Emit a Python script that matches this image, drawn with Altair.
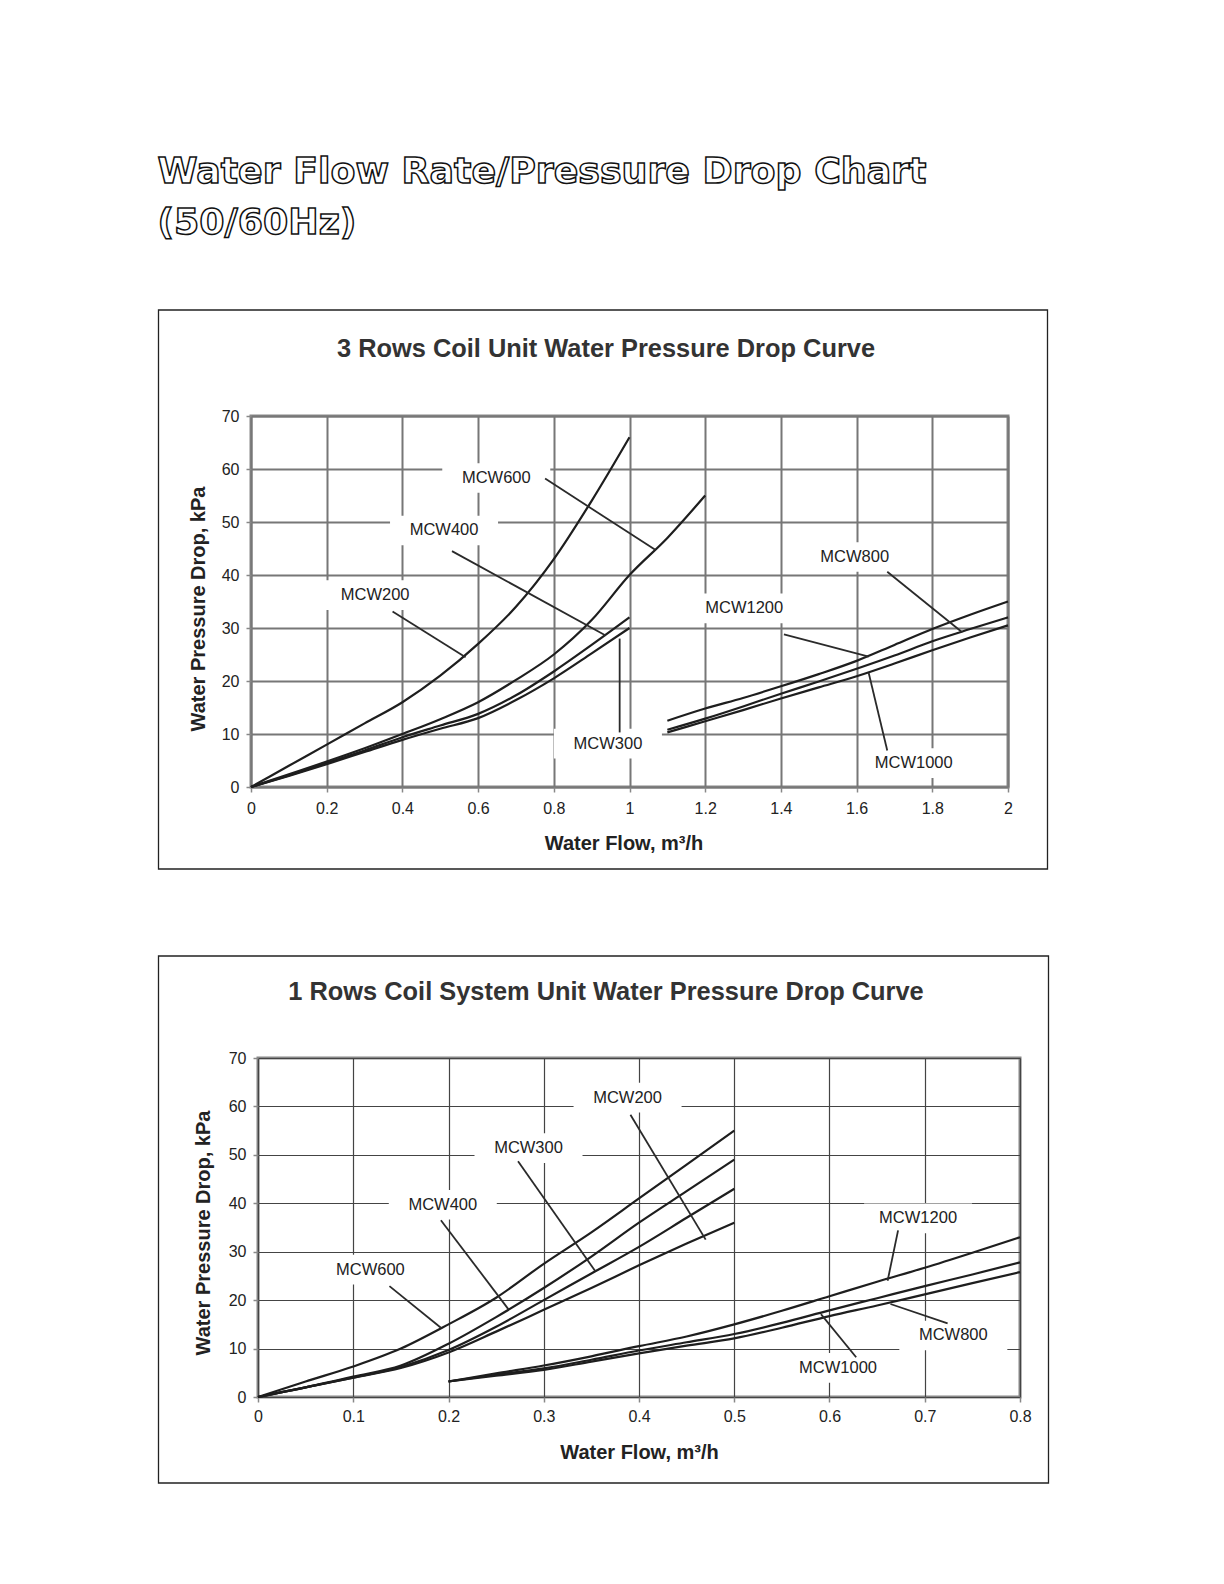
import altair as alt
import pandas as pd

FONT = "Liberation Sans"

# ---------------- Top chart: 3 Rows Coil ----------------
T_X_A = [0, 0.1, 0.2, 0.3, 0.4, 0.5, 0.6, 0.7, 0.8, 0.9, 1.0]
T_MCW200 = [0, 4, 8, 12, 16, 21, 27, 34, 43, 54, 66]
T_MCW400 = [0, 2.2, 4.5, 6.9, 9.4, 11.6, 13.8, 17.3, 21.8, 26.8, 32]
T_MCW300 = [0, 2.1, 4.3, 6.6, 8.9, 11.0, 13.0, 16.4, 20.5, 25.2, 30]
T_X_600 = [0, 0.1, 0.2, 0.3, 0.4, 0.5, 0.6, 0.7, 0.8, 0.9, 1.0, 1.1, 1.2]
T_MCW600 = [0, 2.4, 4.8, 7.3, 10, 12.8, 16, 20.2, 25, 31.5, 40, 47, 55]
T_X_B = [1.1, 1.2, 1.3, 1.4, 1.5, 1.6, 1.7, 1.8, 1.9, 2.0]
T_MCW1200 = [12.5, 14.8, 16.8, 19.0, 21.3, 23.8, 26.8, 29.8, 32.5, 35]
T_MCW800 = [10.8, 12.9, 15.2, 17.6, 19.9, 22.3, 24.8, 27.5, 29.8, 32]
T_MCW1000 = [10.3, 12.4, 14.5, 16.7, 18.8, 20.9, 23.3, 25.8, 28.2, 30.5]

T_XTICKS = [0, 0.2, 0.4, 0.6, 0.8, 1.0, 1.2, 1.4, 1.6, 1.8, 2.0]
YTICKS = [0, 10, 20, 30, 40, 50, 60, 70]

T_LABELS = ["MCW600", "MCW400", "MCW200", "MCW300", "MCW1200", "MCW800", "MCW1000"]
T_LAB_X = [0.648, 0.510, 0.328, 0.943, 1.303, 1.595, 1.751]
T_LAB_Y = [58.3, 48.4, 36.2, 8.2, 33.7, 43.4, 4.5]
T_LEAD_X1 = [0.777, 0.531, 0.374, 0.974, 1.408, 1.681, 1.681]
T_LEAD_Y1 = [58.2, 44.5, 33.1, 10.3, 28.8, 40.6, 6.9]
T_LEAD_X2 = [1.069, 0.937, 0.567, 0.974, 1.632, 1.879, 1.632]
T_LEAD_Y2 = [44.7, 28.6, 24.5, 28.0, 24.6, 29.2, 21.5]

# ---------------- Bottom chart: 1 Rows Coil ----------------
B_X_A = [0, 0.05, 0.1, 0.15, 0.2, 0.25, 0.3, 0.35, 0.4, 0.45, 0.5]
B_MCW600 = [0, 3.2, 6.3, 10, 15, 20.5, 27.5, 34, 41, 48, 55]
B_MCW400 = [0, 2, 4.2, 6.5, 11, 16.5, 22.5, 29, 36, 42.5, 49]
B_MCW300 = [0, 2, 4, 6.2, 9.7, 14.5, 20, 25.5, 31, 37, 43]
B_MCW200 = [0, 2, 4, 6, 9.2, 13.5, 18, 22.5, 27.2, 31.7, 36]
B_X_B = [0.2, 0.25, 0.3, 0.35, 0.4, 0.45, 0.5, 0.55, 0.6, 0.65, 0.7, 0.75, 0.8]
B_MCW1200 = [3.2, 4.9, 6.5, 8.4, 10.5, 12.5, 15, 17.8, 20.8, 23.8, 26.7, 29.8, 33]
B_MCW1000 = [3.2, 4.6, 5.9, 7.7, 9.6, 11.3, 13, 15.3, 17.9, 20.4, 22.9, 25.3, 27.8]
B_MCW800 = [3.2, 4.4, 5.6, 7.3, 9.0, 10.6, 12.1, 14.3, 16.7, 18.9, 21.2, 23.5, 25.8]

B_XTICKS = [0, 0.1, 0.2, 0.3, 0.4, 0.5, 0.6, 0.7, 0.8]

B_LABELS = ["MCW200", "MCW300", "MCW400", "MCW600", "MCW1200", "MCW800", "MCW1000"]
B_LAB_X = [0.388, 0.284, 0.194, 0.118, 0.693, 0.730, 0.609]
B_LAB_Y = [61.8, 51.4, 39.7, 26.3, 36.9, 12.7, 6.0]
B_LEAD_X1 = [0.391, 0.273, 0.192, 0.138, 0.672, 0.724, 0.628]
B_LEAD_Y1 = [58.3, 48.7, 36.5, 22.9, 34.4, 15.2, 8.2]
B_LEAD_X2 = [0.470, 0.354, 0.263, 0.192, 0.661, 0.664, 0.591]
B_LEAD_Y2 = [32.5, 26.0, 18.1, 14.3, 24.0, 19.2, 17.1]

PAGE_TITLE_1 = "Water Flow Rate/Pressure Drop Chart"
PAGE_TITLE_2 = "(50/60Hz)"
TOP_TITLE = "3 Rows Coil Unit Water Pressure Drop Curve"
BOT_TITLE = "1 Rows Coil System Unit Water Pressure Drop Curve"
X_TITLE = "Water Flow, m³/h"
Y_TITLE = "Water Pressure Drop, kPa"

BOX_PATH = "M-2,-0.55L2,-0.55L2,0.55L-2,0.55Z"


def series_df(pairs):
    rows = []
    for name, xs, ys in pairs:
        for x, y in zip(xs, ys):
            rows.append({"series": name, "x": x, "y": y})
    return pd.DataFrame(rows)


def label_df(names, lx, ly, x1, y1, x2, y2):
    return pd.DataFrame({"label": names, "x": lx, "y": ly,
                         "lx1": x1, "ly1": y1, "lx2": x2, "ly2": y2})


DUMMY = alt.Data(values=[{"k": 1}])


def panel(df, labs, xmax, xticks, W, H, grid_color, grid_width, frame, title, title_xy,
          xlab_pad, xtitle_pad, ytitle_pad, xtitle_x, ytitle_y, extra_layers=()):
    xaxis = alt.Axis(values=xticks, format="~g", title=X_TITLE, grid=True,
                     gridColor=grid_color, gridWidth=grid_width, domain=False,
                     tickColor="#888", tickSize=5, tickWidth=1.5,
                     labelFont=FONT, labelFontSize=16, labelColor="#222",
                     labelPadding=xlab_pad, labelFlush=False, labelOverlap=False,
                     titleFont=FONT, titleFontSize=20, titleFontWeight="bold",
                     titleColor="#222", titlePadding=xtitle_pad, titleX=xtitle_x)
    yaxis = alt.Axis(values=YTICKS, title=Y_TITLE, grid=True,
                     gridColor=grid_color, gridWidth=grid_width, domain=False,
                     tickColor="#888", tickSize=5, tickWidth=1.5,
                     labelFont=FONT, labelFontSize=16, labelColor="#222",
                     labelPadding=7, labelFlush=False, labelOverlap=False,
                     titleFont=FONT, titleFontSize=20, titleFontWeight="bold",
                     titleColor="#222", titlePadding=ytitle_pad, titleY=ytitle_y)
    xs = alt.Scale(domain=[0, xmax], nice=False)
    ys = alt.Scale(domain=[0, 70], nice=False)

    def X(f):
        return alt.X(f"{f}:Q", scale=xs, axis=xaxis)

    def Y(f):
        return alt.Y(f"{f}:Q", scale=ys, axis=yaxis)

    fx1, fx2, fy1, fy2 = frame
    frame_l = alt.Chart(DUMMY).mark_rect(filled=False, stroke="#222", strokeWidth=1.3).encode(
        x=alt.value(fx1), x2=alt.value(fx2), y=alt.value(fy1), y2=alt.value(fy2))
    boxes = alt.Chart(labs).mark_point(shape=BOX_PATH, size=2916, filled=True,
                                       color="white", opacity=1, strokeWidth=0).encode(
        x=X("x"), y=Y("y"))
    lines = alt.Chart(df).mark_line(color="#1e1e1e", strokeWidth=2.2,
                                    interpolate="monotone").encode(
        x=X("x"), y=Y("y"), detail="series:N")
    leaders = alt.Chart(labs).mark_rule(color="#2a2a2a", strokeWidth=1.8).encode(
        x=X("lx1"), y=Y("ly1"), x2="lx2:Q", y2="ly2:Q")
    texts = alt.Chart(labs).mark_text(font=FONT, fontSize=16.5, color="#222").encode(
        x=X("x"), y=Y("y"), text="label:N")
    ttl = alt.Chart(DUMMY).mark_text(font=FONT, fontSize=25.4, fontWeight="bold",
                                     color="#333", align="center", baseline="middle").encode(
        x=alt.value(title_xy[0]), y=alt.value(title_xy[1]), text=alt.value(title))
    return alt.layer(frame_l, boxes, lines, leaders, texts, ttl, *extra_layers).properties(
        width=W, height=H)


top_df = series_df([
    ("MCW200", T_X_A, T_MCW200), ("MCW400", T_X_A, T_MCW400), ("MCW300", T_X_A, T_MCW300),
    ("MCW600", T_X_600, T_MCW600), ("MCW1200", T_X_B, T_MCW1200),
    ("MCW800", T_X_B, T_MCW800), ("MCW1000", T_X_B, T_MCW1000)])
bot_df = series_df([
    ("MCW600", B_X_A, B_MCW600), ("MCW400", B_X_A, B_MCW400), ("MCW300", B_X_A, B_MCW300),
    ("MCW200", B_X_A, B_MCW200), ("MCW1200", B_X_B, B_MCW1200),
    ("MCW1000", B_X_B, B_MCW1000), ("MCW800", B_X_B, B_MCW800)])

top_labs = label_df(T_LABELS, T_LAB_X, T_LAB_Y, T_LEAD_X1, T_LEAD_Y1, T_LEAD_X2, T_LEAD_Y2)
bot_labs = label_df(B_LABELS, B_LAB_X, B_LAB_Y, B_LEAD_X1, B_LEAD_Y1, B_LEAD_X2, B_LEAD_Y2)

page_title = [
    alt.Chart(DUMMY).mark_text(font="DejaVu Sans", fontSize=36.3, fontWeight="bold",
                               fill="white", stroke="#111", strokeWidth=1.5,
                               align="left", baseline="middle").encode(
        x=alt.value(-93.5), y=alt.value(yy), text=alt.value(t))
    for t, yy in [(PAGE_TITLE_1, -244), (PAGE_TITLE_2, -193)]
]

TW, TH = 757, 371
BW, BH = 762, 339

top = panel(top_df, top_labs, 2.0, T_XTICKS, TW, TH, "#777", 2,
            (-92.5, TW + 39.5, -106, TH + 82), TOP_TITLE, (355, -67),
            xlab_pad=8, xtitle_pad=17, ytitle_pad=13,
            xtitle_x=TW / 2 - 6, ytitle_y=TH / 2 + 7, extra_layers=page_title)
bot = panel(bot_df, bot_labs, 0.8, B_XTICKS, BW, BH, "#444", 1.2,
            (-99.5, BW + 28.5, -102, BH + 86), BOT_TITLE, (348, -66),
            xlab_pad=6, xtitle_pad=18, ytitle_pad=15,
            xtitle_x=BW / 2, ytitle_y=BH / 2 + 5)

spacer = alt.Chart(DUMMY).mark_point(opacity=0).encode(
    x=alt.value(0), y=alt.value(0)
).properties(width=7, height=1, view=alt.ViewBackground(stroke="transparent", strokeWidth=0))

bottom_row = alt.hconcat(spacer, bot, spacing=0, bounds="flush")

chart = alt.vconcat(top, bottom_row, spacing=271, bounds="flush").properties(
    padding={"left": 148, "top": 144, "right": 5, "bottom": 5}
).configure_view(stroke="#888", strokeWidth=3)

chart.save("out.html", embed_options={"renderer": "svg", "actions": False})
